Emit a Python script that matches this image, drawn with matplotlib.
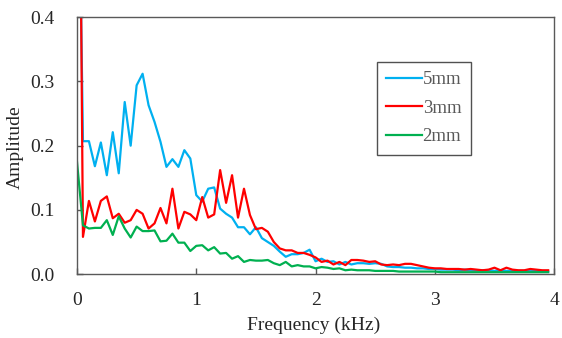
import matplotlib
matplotlib.use('Agg')
from matplotlib import pyplot as plt
import numpy as np

# frequency axis (kHz), 0.05 kHz steps
freq = [round(i * 0.05, 2) for i in range(80)]

amp_5mm = [0.85, 0.207, 0.207, 0.168, 0.205, 0.154, 0.221, 0.157, 0.268, 0.200,
           0.294, 0.312, 0.263, 0.237, 0.206, 0.167, 0.179, 0.167, 0.193, 0.180,
           0.123, 0.113, 0.133, 0.135, 0.102, 0.094, 0.088, 0.073, 0.073, 0.062,
           0.073, 0.056, 0.050, 0.044, 0.035, 0.027, 0.031, 0.031, 0.033, 0.038,
           0.020, 0.024, 0.019, 0.020, 0.015, 0.019, 0.015, 0.017, 0.017, 0.016,
           0.017, 0.016, 0.012, 0.011, 0.011, 0.010, 0.010, 0.009, 0.009, 0.008,
           0.008, 0.007, 0.007, 0.007, 0.006, 0.007, 0.006, 0.006, 0.006, 0.006,
           0.005, 0.006, 0.005, 0.005, 0.005, 0.005, 0.005, 0.005, 0.004, 0.004]

amp_3mm = [1.20, 0.058, 0.114, 0.082, 0.114, 0.121, 0.087, 0.094, 0.080, 0.084,
           0.100, 0.094, 0.071, 0.079, 0.103, 0.079, 0.133, 0.071, 0.097, 0.093,
           0.084, 0.120, 0.088, 0.093, 0.162, 0.111, 0.154, 0.088, 0.133, 0.092,
           0.070, 0.072, 0.066, 0.050, 0.040, 0.037, 0.037, 0.033, 0.033, 0.030,
           0.026, 0.019, 0.021, 0.015, 0.019, 0.014, 0.022, 0.022, 0.021, 0.019,
           0.020, 0.015, 0.014, 0.015, 0.014, 0.016, 0.016, 0.014, 0.012, 0.010,
           0.009, 0.009, 0.008, 0.008, 0.008, 0.007, 0.008, 0.007, 0.006, 0.007,
           0.010, 0.006, 0.010, 0.007, 0.006, 0.006, 0.008, 0.007, 0.006, 0.006]

amp_2mm = [0.175, 0.076, 0.071, 0.072, 0.072, 0.084, 0.061, 0.090, 0.071, 0.057,
           0.074, 0.067, 0.067, 0.068, 0.051, 0.052, 0.063, 0.049, 0.049, 0.036,
           0.044, 0.045, 0.037, 0.042, 0.032, 0.033, 0.024, 0.028, 0.019, 0.022,
           0.021, 0.021, 0.022, 0.017, 0.014, 0.019, 0.012, 0.014, 0.012, 0.012,
           0.009, 0.011, 0.010, 0.008, 0.009, 0.006, 0.007, 0.006, 0.006, 0.006,
           0.005, 0.005, 0.005, 0.005, 0.004, 0.004, 0.004, 0.004, 0.004, 0.004,
           0.004, 0.003, 0.003, 0.003, 0.003, 0.003, 0.003, 0.003, 0.003, 0.003,
           0.003, 0.003, 0.003, 0.003, 0.003, 0.003, 0.003, 0.003, 0.003, 0.003]

labels = ['5mm', '3mm', '2mm']
colors = ['#00B0F0', '#FF0000', '#00B050']

plt.rcParams['font.family'] = ['Liberation Serif', 'DejaVu Serif']

fig = plt.figure(figsize=(5.62, 3.38), dpi=100)
ax = fig.add_axes([0.137, 0.189, 0.849, 0.760])

for series, lab, col in zip([amp_5mm, amp_3mm, amp_2mm], labels, colors):
    ax.plot(freq, series, color=col, lw=1.6, label=lab)

ax.set_xlim(0, 4)
ax.set_ylim(0, 0.4)
ax.set_xticks([0, 1, 2, 3, 4])
ax.set_yticks([0.0, 0.1, 0.2, 0.3, 0.4])
ax.set_yticklabels(['0.0', '0.1', '0.2', '0.3', '0.4'])
ax.tick_params(direction='in', length=4, width=1, color='#595959',
               labelsize=14, labelcolor='#262626')
ax.tick_params(axis='y', pad=16)
ax.tick_params(axis='x', pad=13)
for sp in ax.spines.values():
    sp.set_color('#595959')
    sp.set_linewidth(1)

ax.set_xlabel('Frequency (kHz)', fontsize=14, color='#262626', va='center')
ax.set_ylabel('Amplitude', fontsize=14, color='#262626', va='center')
ax.xaxis.set_label_coords(0.495, -0.2)
ax.yaxis.set_label_coords(-0.13, 0.494)

leg = ax.legend(loc='upper left', bbox_to_anchor=(0.628, 0.826), fontsize=13.5,
                frameon=True, fancybox=False, handlelength=1.9, handletextpad=0.05,
                labelspacing=0.6, borderpad=0.5, borderaxespad=0,
                labelcolor='#595959')
leg.get_frame().set_edgecolor('#262626')
leg.get_frame().set_linewidth(1)

fig.savefig('out.png', dpi=100)
